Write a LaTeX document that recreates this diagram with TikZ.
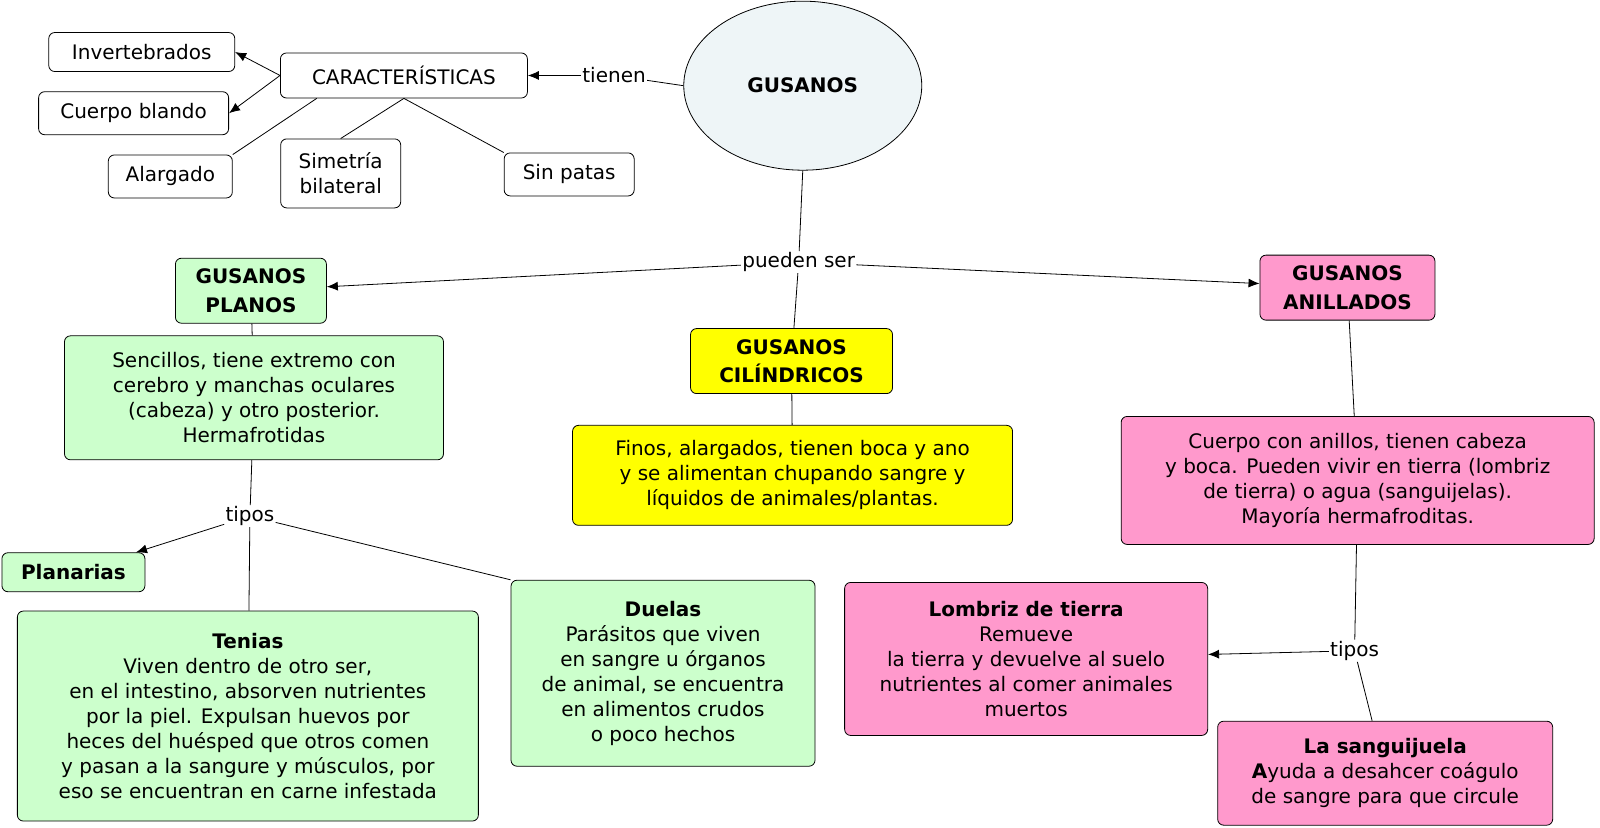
\documentclass[tikz,border=0pt]{standalone}
\usepackage{fontspec}
\setmainfont{DejaVu Sans}
\usetikzlibrary{shapes.geometric,arrows.meta}
\definecolor{gv}{HTML}{CCFFCC}
\definecolor{yv}{HTML}{FFFF00}
\definecolor{pv}{HTML}{FF99CC}
\definecolor{ev}{HTML}{EEF5F7}
\begin{document}
\begin{tikzpicture}[x=1.02pt,y=-1.02pt,
 bx/.style={draw,rounded corners=6pt,align=center,inner sep=0,font=\fontsize{20}{25}\selectfont},
 lb/.style={fill=white,inner sep=1pt,font=\fontsize{20}{25}\selectfont},
 ar/.style={-{Latex[length=11pt,width=9pt]}},
 every path/.style={line width=0.8pt}]
\node[draw,ellipse,fill=ev,minimum width=238,minimum height=169,font=\fontsize{20}{25}\selectfont\bfseries] (g) at (787,84) {GUSANOS};
\node[lb] (tn) at (602,74) {tienen};
\node[bx,minimum width=247,minimum height=45] (c) at (396,74) {CARACTERÍSTICAS};
\node[bx,minimum width=186,minimum height=39] (inv) at (139,51) {Invertebrados};
\node[bx,minimum width=190,minimum height=43] (cb) at (131,111) {Cuerpo blando};
\node[bx,minimum width=124,minimum height=43] (al) at (167,173) {Alargado};
\node[bx,minimum width=120,minimum height=69] (si) at (334,170) {Simetría\\bilateral};
\node[bx,minimum width=130,minimum height=43] (sp) at (558,171) {Sin patas};
\node[lb] (ps) at (783,257) {pueden ser};
\node[bx,fill=gv,minimum width=151,minimum height=65,font=\fontsize{20}{28.5}\selectfont\bfseries] (gp) at (246,285) {GUSANOS\\PLANOS};
\node[bx,fill=gv,minimum width=379,minimum height=124] (sen) at (249,390) {Sencillos, tiene extremo con\\cerebro y manchas oculares\\(cabeza) y otro posterior.\\Hermafrotidas};
\node[bx,fill=yv,minimum width=202,minimum height=65,font=\fontsize{20}{28.5}\selectfont\bfseries] (gc) at (776,354) {GUSANOS\\CILÍNDRICOS};
\node[bx,fill=yv,minimum width=440,minimum height=100] (fin) at (777,466) {Finos, alargados, tienen boca y ano\\y se alimentan chupando sangre y\\líquidos de animales/plantas.};
\node[bx,fill=pv,minimum width=175,minimum height=65,font=\fontsize{20}{28.5}\selectfont\bfseries] (ga) at (1321,282) {GUSANOS\\ANILLADOS};
\node[bx,fill=pv,minimum width=473,minimum height=128] (cu) at (1331,471) {Cuerpo con anillos, tienen cabeza\\y boca. Pueden vivir en tierra (lombriz\\de tierra) o agua (sanguijelas).\\Mayoría hermafroditas.};
\node[lb] (t1) at (245,506) {tipos};
\node[bx,fill=gv,minimum width=143,minimum height=39,font=\fontsize{20}{25}\selectfont\bfseries] (pl) at (72,561) {Planarias};
\node[bx,fill=gv,minimum width=461,minimum height=210] (te) at (243,702) {\textbf{Tenias}\\Viven dentro de otro ser,\\en el intestino, absorven nutrientes\\por la piel. Expulsan huevos por\\heces del huésped que otros comen\\y pasan a la sangure y músculos, por\\eso se encuentran en carne infestada};
\node[bx,fill=gv,minimum width=304,minimum height=186] (du) at (650,660) {\textbf{Duelas}\\Parásitos que viven\\en sangre u órganos\\de animal, se encuentra\\en alimentos crudos\\o poco hechos};
\node[lb] (t2) at (1328,638) {tipos};
\node[bx,fill=pv,minimum width=363,minimum height=153] (lo) at (1006,646) {\textbf{Lombriz de tierra}\\Remueve\\la tierra y devuelve al suelo\\nutrientes al comer animales\\muertos};
\node[bx,fill=pv,minimum width=335,minimum height=104] (sa) at (1358,758) {\textbf{La sanguijuela}\\\textbf{A}yuda a desahcer coágulo\\de sangre para que circule};
\draw (g.west) -- (tn);
\draw[ar] (tn) -- (c);
\draw[ar] (c.west) -- (inv.east);
\draw[ar] (c.west) -- (cb.east);
\draw (c.south west)++(36,0) -- (al.north east);
\draw (c.south) -- (si.north);
\draw (c.south) -- (sp.north west);
\draw (g.south) -- (ps);
\draw[ar] (ps) -- (gp);
\draw[ar] (ps) -- (ga);
\draw (ps) -- (gc);
\draw (gp) -- (sen);
\draw (gc) -- (fin);
\draw (ga) -- (cu);
\draw (sen) -- (t1);
\draw[ar] (t1) -- (pl);
\draw (t1) -- (te);
\draw (t1) -- (du.north west);
\draw (cu) -- (t2);
\draw[ar] (t2) -- (lo);
\draw (t2) -- (sa);
\pgfresetboundingbox
\path[use as bounding box] (0,0) rectangle (1568.6,810.8);
\end{tikzpicture}
\end{document}
